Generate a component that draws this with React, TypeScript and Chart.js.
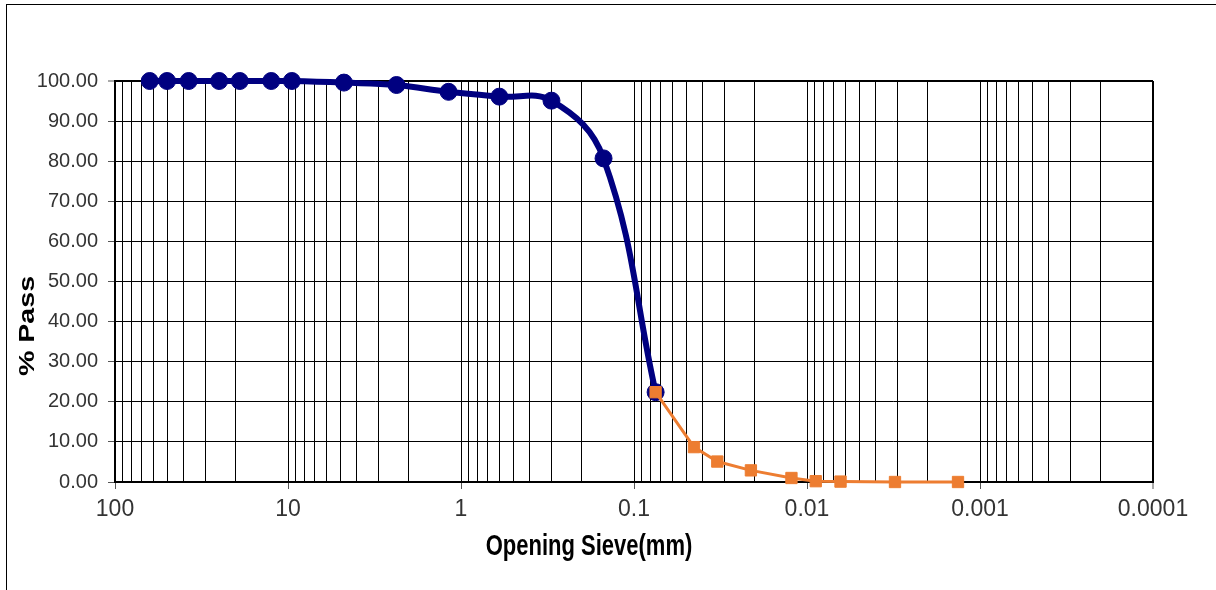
import React, { useEffect, useRef } from 'react';
import { Chart, registerables } from 'chart.js';

Chart.register(...registerables);

// ---- data ----
const coarseSizes = [63, 50, 37.5, 25, 19, 12.5, 9.5, 4.75, 2.36, 1.18, 0.6, 0.3, 0.15, 0.075];
const coarsePass = [100, 100, 100, 100, 100, 100, 100, 99.6, 99.0, 97.3, 96.1, 95.1, 80.7, 22.4];

const fineSizes = [0.075, 0.045, 0.033, 0.0211, 0.0123, 0.0089, 0.0064, 0.0031, 0.00134];
const finePass = [22.4, 8.7, 5.1, 2.9, 1.0, 0.2, 0.1, 0.0, 0.0];

const xDecades = [100, 10, 1, 0.1, 0.01, 0.001, 0.0001];
const xDecadeLabels = ['100', '10', '1', '0.1', '0.01', '0.001', '0.0001'];
const xMultipliers = [1, 2, 3, 4, 5, 6, 7, 8, 9];

const yTickValues = [0, 5, 10, 15, 20, 25, 30, 35, 40, 45, 50, 55, 60, 65, 70, 75, 80, 85, 90, 95, 100];
const yTickLabels = ['0.00', '', '10.00', '', '20.00', '', '30.00', '', '40.00', '', '50.00', '', '60.00', '', '70.00', '', '80.00', '', '90.00', '', '100.00'];

const xTitle = 'Opening Sieve(mm)';
const yTitle = '% Pass';

const NAVY = '#000080';
const ORANGE = '#ED7D31';

// build log ticks from decades & multipliers
const xTicks: { value: number; label: string }[] = [];
xDecades.forEach((d, i) => {
  if (i === 0) {
    xTicks.push({ value: d, label: xDecadeLabels[i] });
    return;
  }
  xMultipliers.forEach((m) => {
    xTicks.push({ value: m * d, label: m === 1 ? xDecadeLabels[i] : '' });
  });
});

const isDecade = (v: number) => {
  const l = Math.log10(v);
  return Math.abs(l - Math.round(l)) < 1e-6;
};

const titlePlugin = {
  id: 'axisTitlesCustom',
  afterDraw(chart: any) {
    const { ctx, chartArea } = chart;
    ctx.save();
    ctx.fillStyle = '#000';
    ctx.font = 'bold 22px "Liberation Sans", Arial, sans-serif';
    ctx.textAlign = 'center';
    ctx.textBaseline = 'alphabetic';
    // x title
    ctx.save();
    ctx.translate(chartArea.left + 474, chartArea.bottom + 73);
    ctx.scale(1, 1.3);
    ctx.fillText(xTitle, 0, 0);
    ctx.restore();
    // y title
    ctx.save();
    ctx.translate(34, chartArea.top + 245);
    ctx.rotate(-Math.PI / 2);
    ctx.scale(1.3, 1);
    ctx.fillText(yTitle, 0, 0);
    ctx.restore();
    ctx.restore();
  },
};

export default function App() {
  const canvasRef = useRef<HTMLCanvasElement | null>(null);

  useEffect(() => {
    if (!canvasRef.current) return;
    const chart = new Chart(canvasRef.current, {
      type: 'line',
      data: {
        datasets: [
          {
            label: 'fine',
            data: fineSizes.map((x, i) => ({ x, y: finePass[i] })),
            borderColor: ORANGE,
            backgroundColor: ORANGE,
            borderWidth: 3,
            pointStyle: 'rect',
            pointRadius: 8,
            pointBorderWidth: 1,
            pointBorderColor: ORANGE,
            pointBackgroundColor: ORANGE,
            tension: 0,
            order: 0,
            clip: false,
          } as any,
          {
            label: 'coarse',
            data: coarseSizes.map((x, i) => ({ x, y: coarsePass[i] })),
            borderColor: NAVY,
            backgroundColor: NAVY,
            borderWidth: 6,
            pointStyle: 'circle',
            pointRadius: 8.5,
            pointBorderWidth: 1,
            pointBorderColor: NAVY,
            pointBackgroundColor: NAVY,
            tension: 0.4,
            order: 1,
            clip: false,
          } as any,
        ],
      },
      options: {
        animation: false,
        responsive: false,
        events: [],
        layout: { padding: { top: 81, right: 63, bottom: 0, left: 0 } },
        plugins: {
          legend: { display: false },
          tooltip: { enabled: false },
        },
        scales: {
          x: {
            type: 'logarithmic',
            min: 0.0001,
            max: 100,
            reverse: true,
            afterBuildTicks: (scale: any) => {
              scale.ticks = xTicks.map((t) => ({ value: t.value }));
            },
            afterFit: (scale: any) => {
              scale.height = 108;
            },
            ticks: {
              autoSkip: false,
              maxRotation: 0,
              minRotation: 0,
              padding: 7,
              color: '#333',
              font: { family: '"Liberation Sans", Arial, sans-serif', size: 23 },
              callback: (_v: any, index: number) => xTicks[index] ? xTicks[index].label : '',
            },
            grid: {
              color: '#000',
              lineWidth: (c: any) => (c.tick && Math.abs(c.tick.value - 0.0001) < 1e-9 ? 2 : 1),
              tickLength: 7,
              tickColor: (c: any) => (c.tick && isDecade(c.tick.value) ? '#555' : 'rgba(0,0,0,0)'),
              tickWidth: 1,
            },
            border: { display: true, color: '#000', width: 2 },
          } as any,
          y: {
            type: 'linear',
            min: 0,
            max: 100,
            afterBuildTicks: (scale: any) => {
              scale.ticks = yTickValues.map((v) => ({ value: v }));
            },
            afterFit: (scale: any) => {
              scale.width = 115;
            },
            ticks: {
              padding: 10,
              color: '#333',
              font: { family: '"Liberation Sans", Arial, sans-serif', size: 20 },
              callback: (_v: any, index: number) => yTickLabels[index] ?? '',
            },
            grid: {
              color: (c: any) => (c.tick && c.tick.value % 10 === 0 ? '#000' : '#cccccc'),
              lineWidth: (c: any) => (c.tick && c.tick.value === 100 ? 2 : 1),
              tickLength: 7,
              tickColor: (c: any) => (c.tick && c.tick.value % 10 === 0 ? '#555' : 'rgba(0,0,0,0)'),
              tickWidth: 1,
            },
            border: { display: true, color: '#000', width: 2 },
          } as any,
        },
      },
      plugins: [titlePlugin],
    });
    return () => chart.destroy();
  }, []);

  return (
    <div
      style={{
        position: 'absolute',
        left: 0,
        top: 0,
        width: 1216,
        height: 590,
        overflow: 'hidden',
        background: '#fff',
      }}
    >
      <div
        style={{
          position: 'absolute',
          left: 6,
          top: 4,
          width: 1300,
          height: 700,
          borderLeft: '1px solid #000',
          borderTop: '1px solid #000',
        }}
      />
      <canvas
        ref={canvasRef}
        width={1216}
        height={590}
        style={{ position: 'absolute', left: 0, top: 0, display: 'block' }}
      />
    </div>
  );
}
